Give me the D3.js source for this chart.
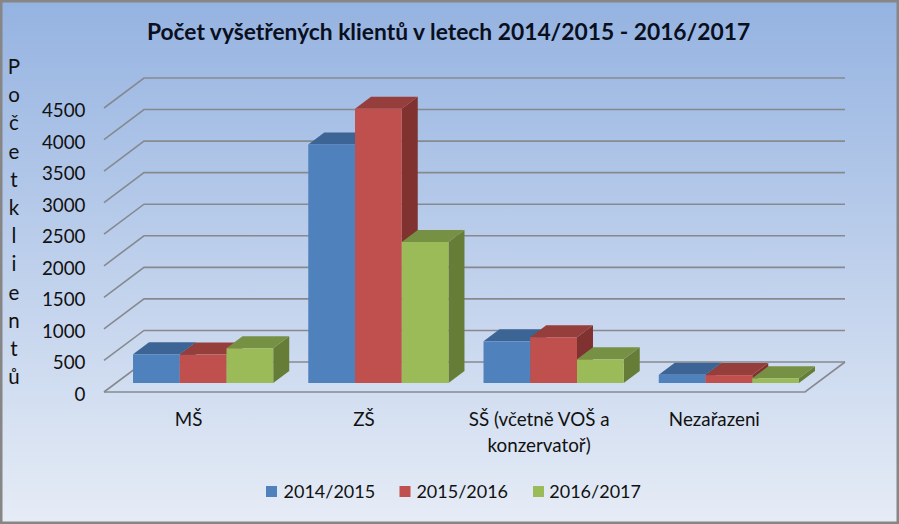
<!DOCTYPE html>
<html><head><meta charset="utf-8">
<script src="https://cdn.jsdelivr.net/npm/d3@7/dist/d3.min.js"></script>
<style>html,body{margin:0;padding:0;background:#fff}svg{display:block}text{font-family:Lato,"Open Sans",sans-serif;fill:#111}</style>
</head><body><svg id="c" width="899" height="524"></svg>
<script>
const categories = ["MŠ","ZŠ","SŠ (včetně VOŠ a|konzervatoř)","Nezařazeni"];
const seriesNames = ["2014/2015","2015/2016","2016/2017"];
const values2014 = [455,3780,660,130];
const values2015 = [450,4345,725,125];
const values2016 = [550,2235,375,75];
const ticks = [0,500,1000,1500,2000,2500,3000,3500,4000,4500];
const titleText = "Počet vyšetřených klientů v letech 2014/2015 - 2016/2017";
const axisTitle = "Počet klientů";
const faces = [
 {front:"#4f81bd",top:"#3c6595",side:"#2f4f76"},
 {front:"#c0504d",top:"#963e3b",side:"#7f322f"},
 {front:"#9bbb59",top:"#769044",side:"#667d38"}];
const W=899,H=524;
const svg=d3.select("#c");
const defs=svg.append("defs");
const g=defs.append("linearGradient").attr("id","bg").attr("x1",0).attr("y1",0).attr("x2",0).attr("y2",1);
g.append("stop").attr("offset",0).attr("stop-color","#95b3e1");
g.append("stop").attr("offset",1).attr("stop-color","#e6ecf6");
svg.append("rect").attr("x",1.25).attr("y",1.25).attr("width",W-2.5).attr("height",H-2.5)
  .attr("fill","url(#bg)").attr("stroke","#868686").attr("stroke-width",2.5);

svg.append("text").attr("x",448.5).attr("y",40).attr("text-anchor","middle")
  .attr("font-size",22.8).attr("font-weight",700).style("fill","#0a0f1e").text(titleText);

const x0=104,x1=805,y0=392,wallDx=40,wallDy=30,barDx=16,barDy=12;
const y=d3.scaleLinear().domain([0,4500]).range([0,284]);
const xs=d3.scaleBand().domain(categories).range([x0,x1]).paddingInner(0.2).paddingOuter(0.1);
const xb=d3.scaleBand().domain(seriesNames).range([0,xs.bandwidth()]);
const grid="#868a90";
const gl=svg.append("g").attr("fill","none").attr("stroke",grid).attr("stroke-width",1.6);
ticks.forEach(t=>{
  const yy=y0-y(t);
  gl.append("path").attr("d",d3.line()([[x0,yy],[x0+wallDx,yy-wallDy],[x1+wallDx,yy-wallDy]]));
});
gl.append("path").attr("d",d3.line()([[x0,y0],[x1,y0],[x1+wallDx,y0-wallDy]]));

svg.append("g").selectAll("text").data(ticks).join("text")
  .attr("x",85.5).attr("y",t=>y0-y(t)+9).attr("text-anchor","end").attr("font-size",18.8).text(d=>d);

svg.append("g").selectAll("text").data(Array.from(axisTitle.replace(" ",""))).join("text")
  .attr("x",14).attr("y",(d,i)=>74+i*28.2).attr("text-anchor","middle").attr("font-size",20.5).text(d=>d);

const data=[values2014,values2015,values2016];
const bx=(wallDx-barDx)/2, by=(wallDy-barDy)/2;
const bars=svg.append("g");
categories.forEach((c,ci)=>{
  seriesNames.forEach((s,si)=>{
    const v=data[si][ci], f=faces[si];
    const l=xs(c)+xb(s)+bx-0.5, r=l+xb.bandwidth(), b=y0-by, t=b-y(v);
    const line=d3.line();
    bars.append("path").attr("fill",f.side).attr("d",line([[r,b],[r+barDx,b-barDy],[r+barDx,t-barDy],[r,t]])+"Z");
    bars.append("path").attr("fill",f.top).attr("d",line([[l,t],[l+barDx,t-barDy],[r+barDx,t-barDy],[r,t]])+"Z");
    bars.append("rect").attr("fill",f.front).attr("x",l).attr("y",t).attr("width",xb.bandwidth()).attr("height",b-t);
  });
});

const cats=svg.append("g");
categories.forEach((c,ci)=>{
  const cx=xs(c)+xs.bandwidth()/2-3;
  c.split("|").forEach((ln,i)=>{
    cats.append("text").attr("x",cx).attr("y",426+i*25.5).attr("text-anchor","middle").attr("font-size",18.8).text(ln);
  });
});

const legendX=[266,399.5,533];
const lg=svg.append("g");
seriesNames.forEach((s,i)=>{
  lg.append("rect").attr("x",legendX[i]).attr("y",486).attr("width",11).attr("height",11).attr("fill",faces[i].front);
  lg.append("text").attr("x",legendX[i]+17.5-i*0.6).attr("y",497.5).attr("font-size",18).text(s);
});
</script></body></html>
